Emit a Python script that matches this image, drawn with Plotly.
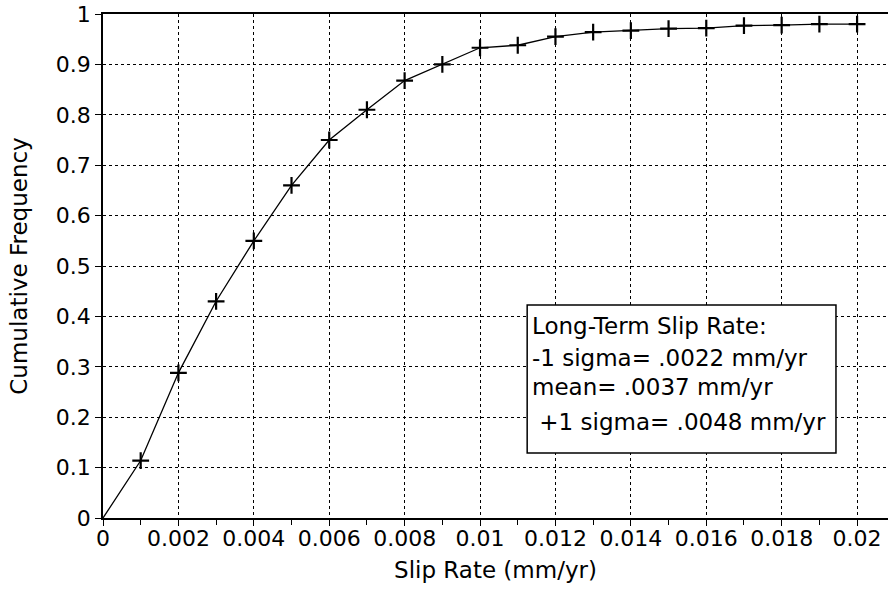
import plotly.graph_objects as go

slip_rate = [0.0, 0.001, 0.002, 0.003, 0.004, 0.005, 0.006, 0.007, 0.008, 0.009, 0.010,
             0.011, 0.012, 0.013, 0.014, 0.015, 0.016, 0.017, 0.018, 0.019, 0.020]
cum_freq = [0.0, 0.114, 0.288, 0.43, 0.55, 0.66, 0.75, 0.81, 0.868, 0.90, 0.933,
            0.938, 0.955, 0.964, 0.967, 0.971, 0.972, 0.977, 0.978, 0.980, 0.980]
marker_x = slip_rate[1:]
marker_y = cum_freq[1:]

x_ticks = [0, 0.002, 0.004, 0.006, 0.008, 0.01, 0.012, 0.014, 0.016, 0.018, 0.02]
x_labels = ["0", "0.002", "0.004", "0.006", "0.008", "0.01", "0.012", "0.014", "0.016", "0.018", "0.02"]
y_ticks = [0, 0.1, 0.2, 0.3, 0.4, 0.5, 0.6, 0.7, 0.8, 0.9, 1]
y_labels = ["0", "0.1", "0.2", "0.3", "0.4", "0.5", "0.6", "0.7", "0.8", "0.9", "1"]

box_lines = ["Long-Term Slip Rate:", "-1 sigma= .0022 mm/yr", "mean= .0037 mm/yr", " +1 sigma= .0048 mm/yr"]

FONT = "DejaVu Sans, Arial, sans-serif"
TICKFONT = dict(family=FONT, size=22, color="black")

fig = go.Figure()
fig.add_trace(go.Scatter(x=slip_rate, y=cum_freq, mode="lines",
                         line=dict(color="black", width=1.3), showlegend=False))
fig.add_trace(go.Scatter(x=marker_x, y=marker_y, mode="markers",
                         marker=dict(symbol="cross-thin", size=12, color="black",
                                     line=dict(color="black", width=2.2)),
                         showlegend=False))

# text box
fig.add_shape(type="rect", xref="x", yref="y", x0=0.01125, x1=0.01944, y0=0.129, y1=0.4226,
              line=dict(color="black", width=1.5), fillcolor="white", layer="above")
line_y = [0.380, 0.318, 0.260, 0.190]
for t, yy in zip(box_lines, line_y):
    fig.add_annotation(x=0.01133, y=yy, xref="x", yref="y",
                       text=t.replace(" ", "&nbsp;", 1) if t.startswith(" ") else t,
                       showarrow=False, xanchor="left", yanchor="middle",
                       font=dict(family=FONT, size=23, color="black"))

fig.update_layout(
    width=888, height=589,
    margin=dict(l=103, r=0, t=14, b=71, autoexpand=False),
    paper_bgcolor="white", plot_bgcolor="white",
    font=dict(family=FONT, size=22, color="black"),
)
fig.update_xaxes(range=[0, 0.02082], tickmode="array", tickvals=x_ticks, ticktext=x_labels,
                 tickfont=TICKFONT, automargin=False, ticklabelstandoff=-6,
                 showline=True, linecolor="black", linewidth=1.5, mirror=True,
                 ticks="outside", ticklen=6, tickwidth=1.2, tickcolor="black",
                 minor=dict(tickvals=[0.001, 0.003, 0.005, 0.007, 0.009, 0.011, 0.013, 0.015, 0.017, 0.019],
                            ticks="outside", ticklen=5, tickcolor="black", showgrid=False),
                 showgrid=True, gridcolor="black", griddash="dot", gridwidth=1,
                 zeroline=False,
                 title=dict(text="Slip Rate (mm/yr)", standoff=12, font=dict(family=FONT, size=23)))
fig.update_yaxes(range=[0, 1], tickmode="array", tickvals=y_ticks, ticktext=y_labels,
                 tickfont=TICKFONT, automargin=False,
                 showline=True, linecolor="black", linewidth=1.5,
                 ticks="outside", ticklen=6, tickwidth=1.2, tickcolor="black",
                 showgrid=True, gridcolor="black", griddash="dot", gridwidth=1,
                 zeroline=False,
                 title=dict(text="Cumulative Frequency", standoff=22, font=dict(family=FONT, size=23)))

fig.write_html("out.html")
